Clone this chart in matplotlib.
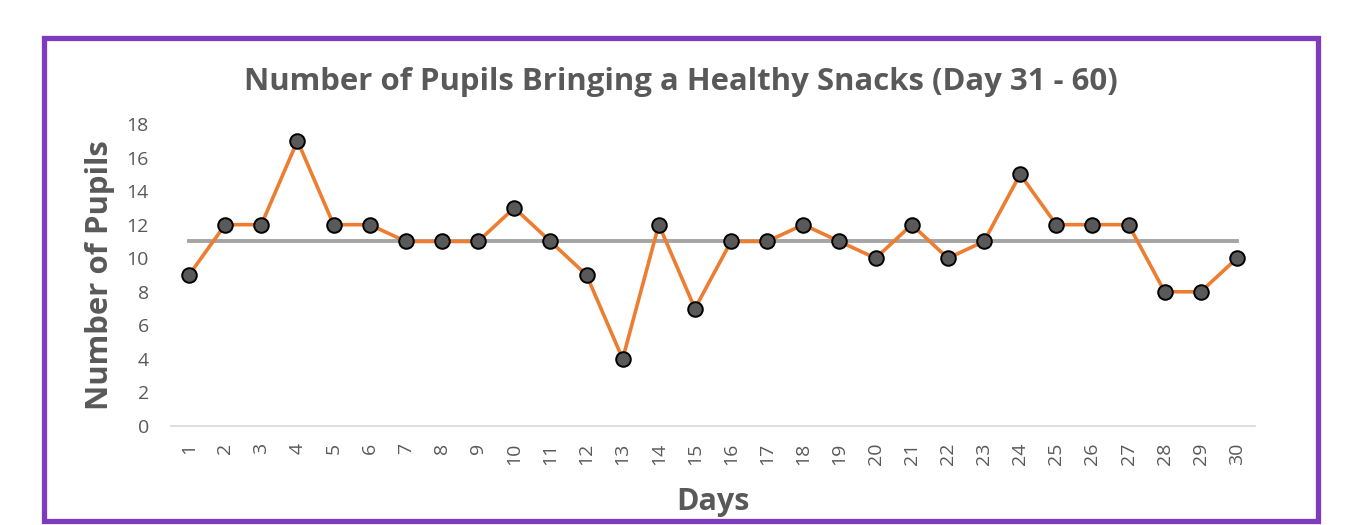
import matplotlib
matplotlib.use("Agg")
import matplotlib.pyplot as plt
from matplotlib.patches import Rectangle

days = list(range(1, 31))
pupils = [9, 12, 12, 17, 12, 12, 11, 11, 11, 13, 11, 9, 4, 12, 7,
          11, 11, 12, 11, 10, 12, 10, 11, 15, 12, 12, 12, 8, 8, 10]
mean_value = 11
y_ticks = list(range(0, 19, 2))

plt.rcParams['font.family'] = ['Open Sans', 'DejaVu Sans']
gray_text = '#595959'

fig = plt.figure(figsize=(13.54, 5.25), dpi=100)
ax = fig.add_axes([171/1354, 99/525, (1255-171)/1354, (426-124)/525])

ax.plot(days, [mean_value]*len(days), color='#A5A5A5', lw=2.8, zorder=2)
ax.plot(days, pupils, color='#ED7D31', lw=2.6, marker='o', markersize=10.5,
        markerfacecolor='#595959', markeredgecolor='black', markeredgewidth=1.4, zorder=3)

ax.set_xlim(0.5, 30.5)
ax.set_ylim(0, 18)
ax.set_yticks(y_ticks)
ax.set_xticks(days)
ax.set_xticklabels([str(d) for d in days], rotation=90)
ax.tick_params(axis='both', length=0, labelsize=14, colors=gray_text)
ax.tick_params(axis='y', pad=16)
ax.tick_params(axis='x', pad=12)
for s in ['top', 'right', 'left']:
    ax.spines[s].set_visible(False)
ax.spines['bottom'].set_color('#D9D9D9')
ax.spines['bottom'].set_linewidth(1.2)

fig.text(681/1354, 1 - 82/525, 'Number of Pupils Bringing a Healthy Snacks (Day 31 - 60)',
         fontsize=22.4, fontweight='bold', color=gray_text, ha='center', va='center')
ax.set_ylabel('Number of Pupils', fontsize=22.4, fontweight='bold', color=gray_text, labelpad=8)
ax.set_xlabel('Days', fontsize=22, fontweight='bold', color=gray_text, labelpad=16)

fig.patches.append(Rectangle((44/1354, 4/525), (1318-44)/1354, (487-4)/525,
                             transform=fig.transFigure, fill=False,
                             edgecolor='#7E3BBE', linewidth=3.8))

fig.savefig('out.png', dpi=100, facecolor='white')
